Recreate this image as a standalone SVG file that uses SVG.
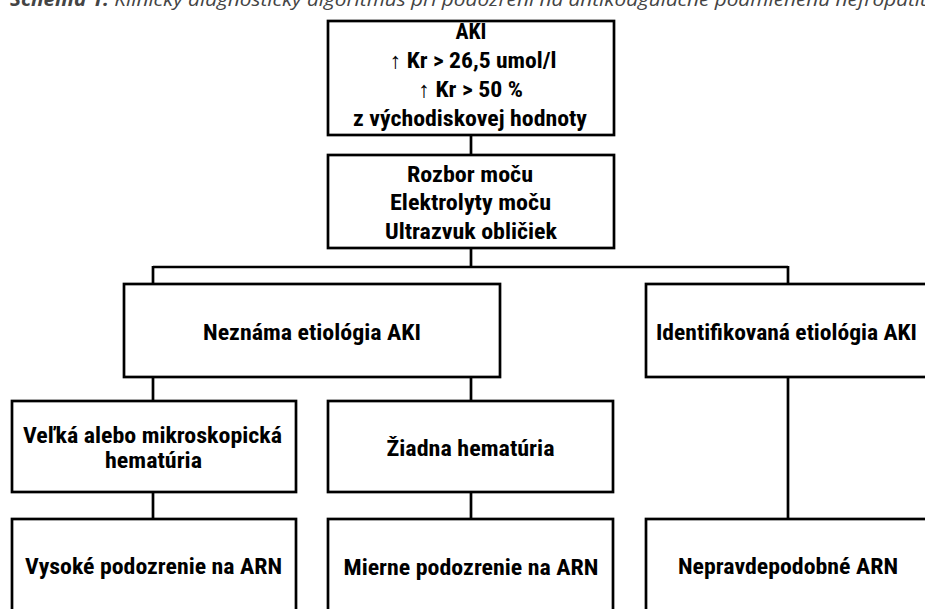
<svg xmlns="http://www.w3.org/2000/svg" width="925" height="609" viewBox="0 0 925 609">
<style>
.box{fill:#fff;stroke:#000;stroke-width:2.7}
.t{font-family:"Roboto Condensed",Roboto,"Liberation Sans",sans-serif;font-weight:700;font-size:22px;fill:#000;text-anchor:middle}
.cap{font-family:"Open Sans","Liberation Sans",sans-serif;font-size:19px;font-style:italic;fill:#444}
.c{fill:none;stroke:#000;stroke-width:2.7}
</style>
<rect width="925" height="609" fill="#fff"/>
<text class="cap" x="10" y="6" textLength="922" lengthAdjust="spacingAndGlyphs"><tspan font-weight="700">Schéma 1.</tspan> Klinický diagnostický algoritmus pri podozrení na antikoagulačne podmienenú nefropatiu</text>
<g id="connectors">
<path class="c" d="M471 135V155M471 248V267M153 267H788M153 266V284M788 266V284M153 377V401M471 377V401M788 377V519M153 492V519M471 492V519"/>
</g>
<g id="aki">
<rect class="box" x="328" y="21" width="286" height="114"/>
<text class="t" x="471" y="39" textLength="31" lengthAdjust="spacingAndGlyphs">AKI</text>
<text class="t" x="473" y="67.5" textLength="167" lengthAdjust="spacingAndGlyphs">↑ Kr &gt; 26,5 umol/l</text>
<text class="t" x="470.5" y="96.5" textLength="105" lengthAdjust="spacingAndGlyphs">↑ Kr &gt; 50 %</text>
<text class="t" x="470" y="125.5" textLength="234" lengthAdjust="spacingAndGlyphs">z východiskovej hodnoty</text>
</g>
<g id="rozbor">
<rect class="box" x="328" y="155" width="286" height="93"/>
<text class="t" x="470" y="181.5" textLength="126" lengthAdjust="spacingAndGlyphs">Rozbor moču</text>
<text class="t" x="470.5" y="210" textLength="161" lengthAdjust="spacingAndGlyphs">Elektrolyty moču</text>
<text class="t" x="471" y="238.5" textLength="172" lengthAdjust="spacingAndGlyphs">Ultrazvuk obličiek</text>
</g>
<g id="neznama">
<rect class="box" x="124" y="284" width="376" height="93"/>
<text class="t" x="312" y="340" textLength="218" lengthAdjust="spacingAndGlyphs">Neznáma etiológia AKI</text>
</g>
<g id="identifikovana">
<rect class="box" x="646" y="284" width="290" height="93"/>
<text class="t" x="786.5" y="340" textLength="261" lengthAdjust="spacingAndGlyphs">Identifikovaná etiológia AKI</text>
</g>
<g id="velka">
<rect class="box" x="12" y="401" width="284" height="91"/>
<text class="t" x="152.5" y="443" textLength="259" lengthAdjust="spacingAndGlyphs">Veľká alebo mikroskopická</text>
<text class="t" x="153.5" y="468" textLength="97" lengthAdjust="spacingAndGlyphs">hematúria</text>
</g>
<g id="ziadna">
<rect class="box" x="328" y="401" width="285" height="91"/>
<text class="t" x="470.5" y="456" textLength="168" lengthAdjust="spacingAndGlyphs">Žiadna hematúria</text>
</g>
<g id="vysoke">
<rect class="box" x="12" y="519" width="284" height="110"/>
<text class="t" x="153.5" y="574" textLength="257" lengthAdjust="spacingAndGlyphs">Vysoké podozrenie na ARN</text>
</g>
<g id="mierne">
<rect class="box" x="328" y="519" width="285" height="110"/>
<text class="t" x="471" y="575" textLength="255" lengthAdjust="spacingAndGlyphs">Mierne podozrenie na ARN</text>
</g>
<g id="nepravdepodobne">
<rect class="box" x="646" y="519" width="290" height="110"/>
<text class="t" x="788" y="574" textLength="220" lengthAdjust="spacingAndGlyphs">Nepravdepodobné ARN</text>
</g>
</svg>
